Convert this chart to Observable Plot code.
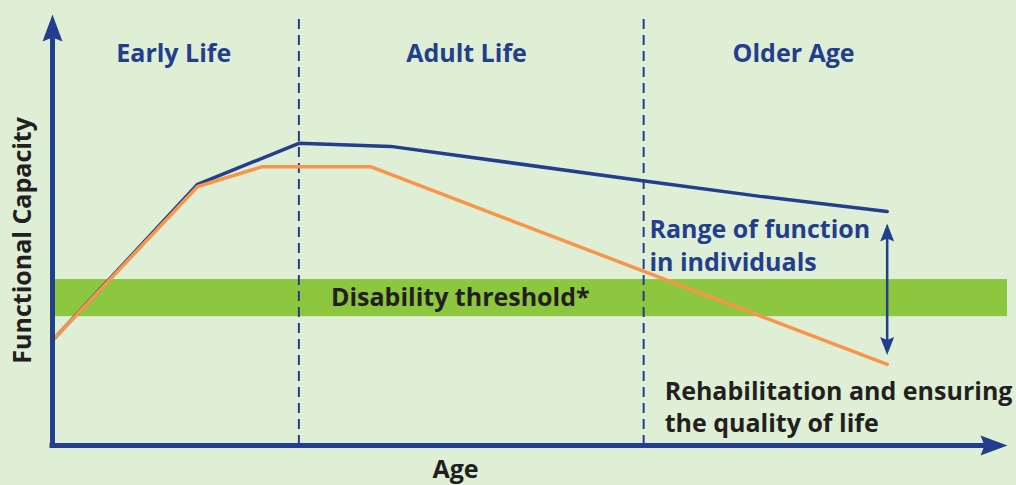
<!DOCTYPE html>
<html>
<head>
<meta charset="utf-8">
<script src="https://cdn.jsdelivr.net/npm/d3@7"></script>
<script src="https://cdn.jsdelivr.net/npm/@observablehq/plot@0.6"></script>
<style>
  html, body { margin: 0; padding: 0; background: #deefd6; }
  #chart { width: 1016px; height: 485px; }
</style>
</head>
<body>
<div id="chart"></div>
<script>
// ---- Data (abstract units: age 0–100, capacity 0–100) ----
const agesHigh = [0, 15.2, 25.8, 35.4, 61.6, 74.1, 87.4];
const capacityHigh = [24.4, 60.6, 70.1, 69.4, 61.5, 57.8, 54.3];
const agesLow = [0, 15.2, 22.0, 33.3, 87.4];
const capacityLow = [24.4, 60.1, 64.7, 64.7, 18.8];

const stageBounds = [25.8, 61.9];
const stageLabels = ["Early Life", "Adult Life", "Older Age"];
const stageLabelX = [12.7, 43.35, 77.6];
const stageLabelY = 90.9;

const thresholdBand = [29.9, 38.5];          // capacity range of band
const thresholdLabel = "Disability threshold*";

const rangeLines = ["Range of function", "in individuals"];
const rangeLineY = [50.1, 42.4];
const rangeX = 62.5;
const rangeArrow = [21.0, 51.5];            // capacity span of double arrow
const rangeArrowX = 87.4;

const rehabLines = ["Rehabilitation and ensuring", "the quality of life"];
const rehabLineY = [12.3, 4.9];
const rehabX = 64.1;

const xTitle = "Age";
const yTitle = "Functional Capacity";

// ---- Styles ----
const BLUE = "#233e8c";
const ORANGE = "#f7964a";
const GREEN = "#8dc63f";
const INK = "#231f20";
const BG = "#deefd6";

// custom arrowhead symbols (tip at anchor point)
const headUp = { draw(c) { c.moveTo(0, 0); c.lineTo(10, 27); c.lineTo(0, 23); c.lineTo(-10, 27); c.closePath(); } };
const headRight = { draw(c) { c.moveTo(0, 0); c.lineTo(-27, 10); c.lineTo(-23, 0); c.lineTo(-27, -10); c.closePath(); } };
const smallUp = { draw(c) { c.moveTo(0, 0); c.lineTo(7, 18); c.lineTo(0, 15); c.lineTo(-7, 18); c.closePath(); } };
const smallDown = { draw(c) { c.moveTo(0, 0); c.lineTo(7, -18); c.lineTo(0, -15); c.lineTo(-7, -18); c.closePath(); } };

const high = agesHigh.map((a, i) => ({ age: a, cap: capacityHigh[i] }));
const low = agesLow.map((a, i) => ({ age: a, cap: capacityLow[i] }));

const font = { fontFamily: "Open Sans", fontWeight: "bold", fontSize: 25 };

const chart = Plot.plot({
  width: 1016,
  height: 485,
  margin: 0,
  x: { domain: [0, 100], range: [52, 1007], axis: null },
  y: { domain: [0, 100], range: [445, 14], axis: null },
  style: { background: BG, fontFamily: "Open Sans", overflow: "visible" },
  marks: [
    // disability threshold band
    Plot.rect([thresholdBand], { x1: 0.2, x2: 100, y1: d => d[0], y2: d => d[1], fill: GREEN }),
    Plot.text([thresholdLabel], { x: 42.7, y: (thresholdBand[0] + thresholdBand[1]) / 2, text: d => d, fill: INK, ...font }),
    // life-stage dividers
    Plot.ruleX(stageBounds, { y1: 0, y2: 100, stroke: BLUE, strokeWidth: 2, strokeDasharray: "10,6" }),
    Plot.text(stageLabels, { x: stageLabelX, y: stageLabelY, text: d => d, fill: BLUE, ...font }),
    // trajectories
    Plot.line(high, { x: "age", y: "cap", stroke: BLUE, strokeWidth: 3.5, strokeLinejoin: "miter" }),
    Plot.line(low, { x: "age", y: "cap", stroke: ORANGE, strokeWidth: 3.5, strokeLinejoin: "miter" }),
    // range double arrow
    Plot.ruleX([rangeArrowX], { y1: rangeArrow[0] + 2, y2: rangeArrow[1] - 2, stroke: BLUE, strokeWidth: 2.5 }),
    Plot.dot([rangeArrowX], { x: d => d, y: rangeArrow[1], symbol: smallUp, fill: BLUE, stroke: "none" }),
    Plot.dot([rangeArrowX], { x: d => d, y: rangeArrow[0], symbol: smallDown, fill: BLUE, stroke: "none" }),
    Plot.text(rangeLines, { x: rangeX, y: rangeLineY, text: d => d, textAnchor: "start", fill: BLUE, ...font }),
    Plot.text(rehabLines, { x: rehabX, y: rehabLineY, text: d => d, textAnchor: "start", fill: INK, ...font }),
    // axes
    Plot.ruleX([0], { y1: 0, y2: 94.5, stroke: BLUE, strokeWidth: 5, strokeLinecap: "square" }),
    Plot.ruleY([0], { x1: 0, x2: 97.5, stroke: BLUE, strokeWidth: 5, strokeLinecap: "square" }),
    Plot.dot([0], { x: 0, y: 100, symbol: headUp, fill: BLUE, stroke: "none" }),
    Plot.dot([0], { x: 100, y: 0, symbol: headRight, fill: BLUE, stroke: "none" }),
    Plot.text([xTitle], { x: 42.2, y: -5.8, text: d => d, fill: INK, ...font }),
    Plot.text([yTitle], { x: -3.1, y: 47.6, text: d => d, rotate: -90, fill: INK, ...font })
  ]
});
document.getElementById("chart").appendChild(chart);
</script>
</body>
</html>
